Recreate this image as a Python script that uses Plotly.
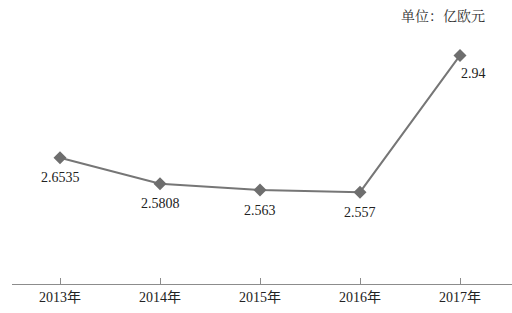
import plotly.graph_objects as go

years = ["2013年", "2014年", "2015年", "2016年", "2017年"]
values = [2.6535, 2.5808, 2.563, 2.557, 2.94]
labels = ["2.6535", "2.5808", "2.563", "2.557", "2.94"]

serif = "Liberation Serif, Times New Roman, Noto Sans CJK SC, serif"
xs = list(range(len(years)))

fig = go.Figure()
fig.add_trace(go.Scatter(
    x=xs, y=values,
    mode="lines+markers",
    line=dict(color="#767676", width=2),
    marker=dict(symbol="diamond", size=10, color="#6e6e6e"),
    cliponaxis=False,
    hoverinfo="skip",
))

for i, (xv, yv, lab) in enumerate(zip(xs, values, labels)):
    last = i == len(xs) - 1
    fig.add_annotation(
        x=xv, y=yv, text=lab, showarrow=False,
        xanchor="center", yanchor="middle",
        xshift=13 if last else 0, yshift=-18 if last else -20,
        font=dict(family=serif, size=14, color="#222222"),
    )

fig.add_annotation(
    text="单位：亿欧元", xref="paper", yref="paper",
    x=0.95, y=1.0, xanchor="right", yanchor="middle", yshift=19, showarrow=False,
    font=dict(family="Noto Serif CJK SC, " + serif, size=14, color="#333333"),
)

fig.update_layout(
    width=512, height=313,
    margin=dict(l=12, r=0, t=34, b=29),
    paper_bgcolor="white", plot_bgcolor="white",
    showlegend=False,
    xaxis=dict(
        range=[-0.48, 4.52],
        tickmode="array", tickvals=xs, ticktext=years,
        showgrid=False, zeroline=False,
        showline=True, linecolor="#8c8c8c", linewidth=1,
        ticks="inside", ticklen=6, tickcolor="#8c8c8c",
        tickfont=dict(family=serif, size=14, color="#222222"),
    ),
    yaxis=dict(range=[2.3, 3.0], visible=False),
)

fig.write_html("out.html")
